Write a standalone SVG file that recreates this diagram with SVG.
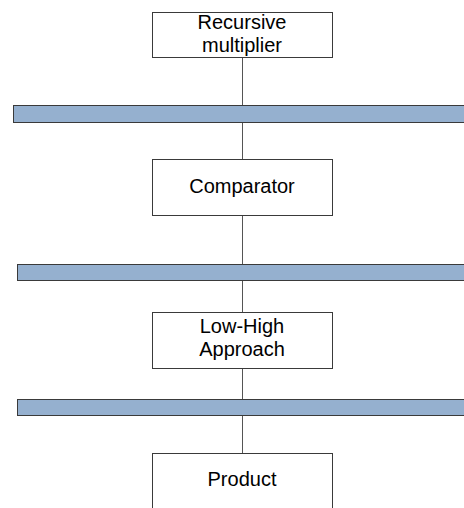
<svg xmlns="http://www.w3.org/2000/svg" width="464" height="508" viewBox="0 0 464 508">
<style>
.box{fill:#fff;stroke:#3a3a3a;stroke-width:1}
.bar{fill:#95b0cf;stroke:#3a3a3a;stroke-width:1}
.lbl{font-family:"Liberation Sans",Arial,sans-serif;font-size:20px;fill:#000;text-anchor:middle}
.con{stroke:#555;stroke-width:1;fill:none}
</style>
<rect width="464" height="508" fill="#fff"/>
<g id="connectors">
<line class="con" x1="242.5" y1="57" x2="242.5" y2="105"/>
<line class="con" x1="242.5" y1="122" x2="242.5" y2="159"/>
<line class="con" x1="242.5" y1="216" x2="242.5" y2="264"/>
<line class="con" x1="242.5" y1="281" x2="242.5" y2="312"/>
<line class="con" x1="242.5" y1="368" x2="242.5" y2="399"/>
<line class="con" x1="242.5" y1="416" x2="242.5" y2="453"/>
</g>
<g id="bar1"><rect class="bar" x="13.5" y="105.5" width="460" height="17"/></g>
<g id="bar2"><rect class="bar" x="17.5" y="264.5" width="460" height="16"/></g>
<g id="bar3"><rect class="bar" x="17.5" y="399.5" width="460" height="16"/></g>
<g id="recursive-multiplier">
<rect class="box" x="152.5" y="12.5" width="180" height="45"/>
<text class="lbl" x="242" y="29">Recursive</text>
<text class="lbl" x="242" y="52">multiplier</text>
</g>
<g id="comparator">
<rect class="box" x="152.5" y="159.5" width="180" height="56"/>
<text class="lbl" x="242" y="193">Comparator</text>
</g>
<g id="low-high">
<rect class="box" x="152.5" y="312.5" width="180" height="56"/>
<text class="lbl" x="242" y="333">Low-High</text>
<text class="lbl" x="242" y="356">Approach</text>
</g>
<g id="product">
<rect class="box" x="152.5" y="453.5" width="180" height="70"/>
<text class="lbl" x="242" y="486">Product</text>
</g>
</svg>
